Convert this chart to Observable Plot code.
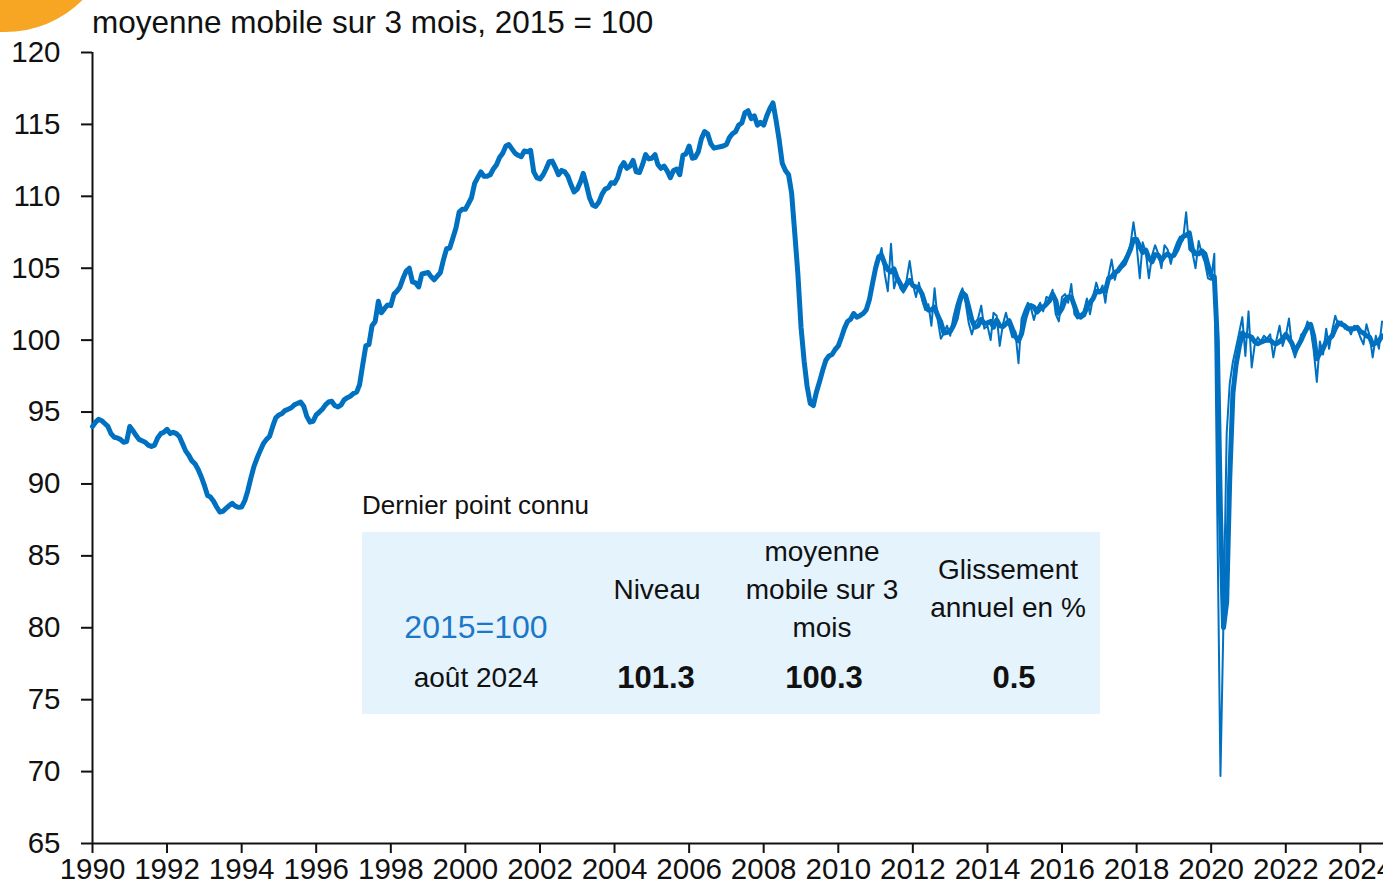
<!DOCTYPE html>
<html lang="fr">
<head>
<meta charset="utf-8">
<script src="https://cdn.jsdelivr.net/npm/d3@7"></script>
<script src="https://cdn.jsdelivr.net/npm/@observablehq/plot@0.6"></script>
<style>
  html, body { margin: 0; padding: 0; background: #fff; }
  #wrap { position: relative; width: 1383px; height: 884px; overflow: hidden; }
  #wrap svg { position: absolute; left: 0; top: 0; }
  .sun { position: absolute; left: -105px; top: -188px; width: 220px; height: 220px; border-radius: 50%; background: #F6A623; }
  .title { position: absolute; left: 92px; top: 4px; font-family: "Liberation Sans", Arial, sans-serif; font-size: 31.5px; line-height: 36px; color: #111; white-space: nowrap; }
  .tbl { position: absolute; left: 362px; top: 532px; width: 738px; height: 182px; background: #E5F3FD; }
  .t { position: absolute; transform: translate(-50%, -50%); font-family: "Liberation Sans", Arial, sans-serif; font-size: 28px; line-height: 38px; color: #111; text-align: center; white-space: nowrap; }
  .b { font-weight: bold; font-size: 31px; }
  .note { position: absolute; left: 362px; top: 505px; transform: translateY(-50%); font-family: "Liberation Sans", Arial, sans-serif; font-size: 26px; line-height: 1; color: #111; white-space: nowrap; }
</style>
</head>
<body>
<div id="wrap"></div>
<script>
// ---- Data ----
// 3-month moving average (thick line), monthly from Jan 1990 to Aug 2024, 2015 = 100
const maStart = [1990, 0];
const ma3 = [
  94.0, 94.3, 94.5, 94.4, 94.2, 94.0, 93.5, 93.25, 93.2, 93.1, 92.9, 92.95,        // 1990
  94.0, 93.7, 93.4, 93.1, 93.0, 92.9, 92.7, 92.6, 92.7, 93.2, 93.5, 93.6,          // 1991
  93.8, 93.5, 93.6, 93.5, 93.3, 92.8, 92.3, 92.0, 91.6, 91.4, 91.0, 90.5,          // 1992
  89.9, 89.2, 89.1, 88.8, 88.4, 88.05, 88.1, 88.3, 88.5, 88.65, 88.45, 88.38,      // 1993
  88.4, 88.85, 89.5, 90.4, 91.2, 91.8, 92.3, 92.8, 93.1, 93.3, 94.0, 94.6,         // 1994
  94.8, 94.9, 95.1, 95.2, 95.3, 95.5, 95.6, 95.7, 95.4, 94.7, 94.3, 94.35,         // 1995
  94.8, 95.0, 95.2, 95.5, 95.7, 95.75, 95.45, 95.35, 95.5, 95.85, 96.0, 96.1,      // 1996
  96.3, 96.4, 96.9, 98.3, 99.6, 99.7, 101.0, 101.3, 102.7, 101.9, 102.2, 102.45,   // 1997
  102.4, 103.2, 103.4, 103.7, 104.3, 104.8, 105.0, 104.05, 103.98, 103.7, 104.6, 104.65, // 1998
  104.7, 104.4, 104.2, 104.45, 104.7, 105.6, 106.35, 106.4, 107.1, 107.8, 108.9, 109.1,  // 1999
  109.1, 109.5, 109.9, 110.9, 111.3, 111.7, 111.4, 111.4, 111.5, 111.9, 112.2, 112.7,    // 2000
  113.0, 113.5, 113.6, 113.3, 113.0, 112.85, 112.75, 113.15, 113.1, 113.2, 111.7, 111.3, // 2001
  111.2, 111.5, 111.9, 112.4, 112.45, 112.0, 111.5, 111.8, 111.7, 111.4, 110.8, 110.3,   // 2002
  110.5, 111.0, 111.6, 110.8, 109.9, 109.4, 109.3, 109.6, 110.15, 110.5, 110.6, 110.95,  // 2003
  110.9, 111.3, 112.0, 112.35, 111.95, 112.1, 112.5, 111.7, 111.65, 112.2, 112.9, 112.6, // 2004
  112.65, 112.9, 112.2, 111.95, 112.1, 111.75, 111.3, 111.8, 111.9, 111.5, 112.85, 112.95, // 2005
  113.5, 112.65, 112.7, 113.1, 114.0, 114.5, 114.35, 113.65, 113.35, 113.4, 113.45, 113.5, // 2006
  113.6, 114.1, 114.35, 114.5, 114.95, 115.1, 115.8, 115.95, 115.4, 115.6, 114.95, 115.15, // 2007
  114.95, 115.6, 116.1, 116.5, 115.3, 113.9, 112.3, 111.8, 111.5, 110.2, 107.4, 104.6,   // 2008
  100.9, 98.5, 96.8, 95.6, 95.45, 96.4, 97.1, 97.9, 98.6, 98.9, 99.0, 99.35,             // 2009
  99.6, 100.2, 100.8, 101.3, 101.45, 101.85, 101.6, 101.7, 101.85, 102.1, 102.8, 103.9,  // 2010
  105.0, 105.8, 105.9, 105.3, 104.9, 104.75, 104.95, 104.3, 103.9, 103.5, 103.9, 104.15, // 2011
  103.8, 103.7, 103.6, 103.2, 102.5, 102.1, 102.1, 102.3, 101.7, 101.25, 100.5, 100.55,  // 2012
  100.6, 101.0, 101.5, 102.6, 103.3, 103.1, 102.3, 101.4, 100.9, 101.0, 101.45, 101.15,  // 2013
  101.2, 101.3, 100.9, 101.4, 101.0, 100.95, 101.13, 101.35, 100.8, 100.25, 99.95, 100.45, // 2014
  101.5, 102.2, 102.4, 102.3, 101.95, 102.2, 102.3, 102.5, 102.75, 103.2, 102.75, 101.85,  // 2015
  102.2, 102.8, 103.0, 103.0, 102.4, 101.8, 101.6, 101.75, 102.3, 102.6, 102.9, 103.4,     // 2016
  103.35, 103.45, 103.4, 104.3, 104.4, 104.7, 104.8, 105.1, 105.3, 105.8, 106.3, 107.0,    // 2017
  107.0, 106.5, 106.1, 106.25, 105.7, 105.45, 105.95, 105.9, 105.55, 105.85, 106.0, 105.8, // 2018
  105.9, 106.3, 106.8, 107.2, 107.3, 107.45, 106.3, 106.0, 106.0, 106.2, 106.0, 105.2,     // 2019
  104.5, 104.4, 100.0, 88.0, 80.0, 81.8, 90.4, 96.3, 98.3, 99.5, 100.5, 100.3,             // 2020
  100.3, 100.2, 99.9, 99.75, 99.85, 99.95, 100.0, 100.0, 99.8, 99.75, 99.9, 100.1,         // 2021
  100.4, 100.1, 99.8, 99.2, 99.6, 100.0, 100.5, 100.9, 101.1, 100.3, 98.7, 99.1,           // 2022
  99.4, 99.9, 100.1, 100.3, 100.8, 101.2, 101.1, 101.0, 100.8, 100.8, 100.8, 100.9,        // 2023
  100.6, 100.5, 100.3, 100.2, 99.7, 99.8, 99.95, 100.3                                     // 2024
];

// Monthly index (thin line), Jan 2011 to Aug 2024
const monthlyStart = [2011, 0];
const monthly = [
  105.4, 105.6, 106.4, 104.6, 103.4, 106.7, 103.6, 104.4, 103.6, 103.3, 104.2, 105.5, // 2011
  103.9, 103.0, 104.0, 102.8, 102.1, 102.5, 101.0, 103.6, 101.4, 100.1, 100.5, 101.0, // 2012
  100.3, 101.6, 102.4, 103.1, 103.6, 102.6, 101.2, 100.4, 101.2, 101.5, 102.4, 100.8, // 2013
  101.0, 100.0, 101.9, 101.7, 99.6, 101.1, 101.9, 101.0, 100.2, 100.6, 98.4, 101.5,   // 2014
  102.1, 102.6, 102.3, 101.4, 102.2, 102.6, 102.0, 103.0, 102.9, 103.5, 101.8, 101.3, // 2015
  103.0, 103.2, 102.6, 103.9, 101.8, 101.5, 101.8, 102.0, 102.9, 101.8, 103.0, 104.0, // 2016
  103.3, 103.8, 102.6, 104.5, 105.6, 104.2, 105.0, 105.3, 105.6, 106.0, 106.6, 108.2, // 2017
  106.6, 104.3, 106.8, 106.1, 104.3, 105.9, 106.6, 106.0, 105.0, 106.6, 106.3, 105.3, // 2018
  106.2, 106.8, 107.2, 107.0, 108.9, 106.3, 106.1, 105.0, 106.9, 106.0, 105.4, 104.3, // 2019
  104.2, 106.0, 88.0, 69.7, 80.6, 93.5, 97.0, 98.5, 99.5, 100.5, 101.6, 98.9,         // 2020
  102.0, 98.1, 99.6, 100.2, 99.9, 100.3, 100.1, 100.4, 98.8, 100.0, 101.0, 99.6,      // 2021
  100.3, 101.5, 99.6, 98.8, 99.5, 100.4, 100.5, 101.3, 100.8, 99.3, 97.1, 99.9,       // 2022
  99.0, 100.8, 99.4, 100.7, 101.7, 101.0, 101.3, 100.8, 100.9, 100.4, 101.0, 100.8,   // 2023
  100.2, 99.7, 101.1, 100.3, 98.8, 100.3, 99.4, 101.3                                 // 2024
];

const yTicks = [65, 70, 75, 80, 85, 90, 95, 100, 105, 110, 115, 120];
const xTickYears = [1990, 1992, 1994, 1996, 1998, 2000, 2002, 2004, 2006, 2008, 2010, 2012, 2014, 2016, 2018, 2020, 2022, 2024];

const titleText = "moyenne mobile sur 3 mois, 2015 = 100";
const tableNote = "Dernier point connu";
const tableHeaders = ["Niveau", "moyenne<br>mobile sur 3<br>mois", "Glissement<br>annuel en %"];
const tableBase = "2015=100";
const tableDate = "août 2024";
const tableValues = ["101.3", "100.3", "0.5"];

// ---- Build tables ----
const toRows = (start, vals) => vals.map((v, i) => ({date: new Date(Date.UTC(start[0], start[1] + i, 1)), value: v}));
const maRows = toRows(maStart, ma3);
const monthlyRows = toRows(monthlyStart, monthly);

const x0 = new Date(Date.UTC(1990, 0, 1));
const x1 = new Date(Date.UTC(2024, 7, 15));
const xTicks = xTickYears.map(y => new Date(Date.UTC(y, 0, 1)));
const blue = "#0070C0";

const chart = Plot.plot({
  width: 1383,
  height: 884,
  marginTop: 52,
  marginBottom: 41,
  marginLeft: 92,
  marginRight: 0,
  style: {fontFamily: "'Liberation Sans', Arial, sans-serif", fontSize: "29.5px", color: "#111", background: "transparent", overflow: "visible"},
  x: {type: "utc", domain: [x0, x1]},
  y: {domain: [65, 120]},
  marks: [
    Plot.axisY({ticks: yTicks, tickSize: 11, tickPadding: 21, strokeWidth: 2, label: null, fill: "#111"}),
    Plot.axisX({ticks: xTicks, tickFormat: d => String(d.getUTCFullYear()), tickSize: 10, tickPadding: 5, strokeWidth: 2, label: null, fill: "#111"}),
    Plot.ruleX([x0], {stroke: "#111", strokeWidth: 2}),
    Plot.ruleY([65], {stroke: "#111", strokeWidth: 2}),
    Plot.line(monthlyRows, {x: "date", y: "value", stroke: blue, strokeWidth: 2}),
    Plot.line(maRows, {x: "date", y: "value", stroke: blue, strokeWidth: 5, strokeLinejoin: "round"})
  ]
});

const wrap = document.getElementById("wrap");
const sun = document.createElement("div"); sun.className = "sun"; wrap.appendChild(sun);
wrap.appendChild(chart);

function addText(cls, html, cx, cy, extra) {
  const d = document.createElement("div");
  d.className = cls;
  d.innerHTML = html;
  d.style.left = cx + "px";
  d.style.top = cy + "px";
  if (extra) Object.assign(d.style, extra);
  wrap.appendChild(d);
  return d;
}
addText("title", titleText, 92, 4);
const tbl = document.createElement("div"); tbl.className = "tbl"; wrap.appendChild(tbl);
addText("note", tableNote, 362, 505);
addText("t", tableBase, 476, 627, {color: "#1B78C6", fontSize: "32px"});
addText("t", tableDate, 476, 678);
addText("t", tableHeaders[0], 657, 590);
addText("t", tableHeaders[1], 822, 590);
addText("t", tableHeaders[2], 1008, 589);
addText("t b", tableValues[0], 656, 678);
addText("t b", tableValues[1], 824, 678);
addText("t b", tableValues[2], 1014, 678);
</script>
</body>
</html>
